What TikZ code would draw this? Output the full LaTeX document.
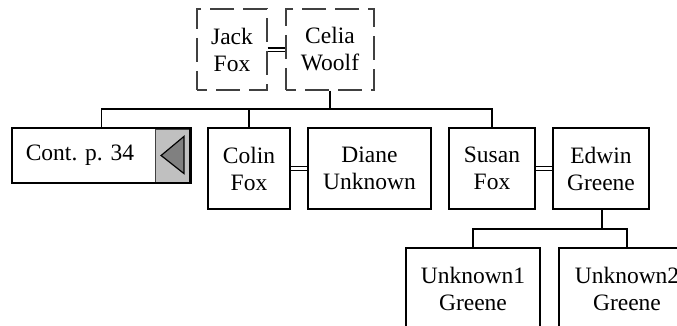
\documentclass[tikz,border=0pt]{standalone}
\usepackage{fontspec}
\setmainfont{Liberation Serif}
\definecolor{btngray}{HTML}{C0C0C0}
\definecolor{tridark}{HTML}{808080}
\definecolor{dashgray}{HTML}{404040}
\begin{document}
\begin{tikzpicture}[x=1pt,y=-1pt,
  person/.style={draw=black,line width=1.8pt,inner sep=0pt,align=center,
    minimum height=81pt,font=\fontsize{23.5}{27}\selectfont},
  ghost/.style={person,draw=dashgray,line width=1.3pt,dash pattern=on 24pt off 9pt,dash phase=14pt},
  link/.style={line width=1.8pt},
  marr/.style={line width=1.1pt}]
\useasboundingbox (0,0) rectangle (677,326);
\node[ghost,minimum width=70pt] (jack) at (232,49.5) {Jack\\Fox};
\node[ghost,minimum width=88pt] (celia) at (330,49.5) {Celia\\Woolf};
\node[person,draw=none,minimum width=177pt,minimum height=53pt] (cont) at (101.5,155.5) {Cont. p. 34\hspace*{43pt}};
\node[draw=dashgray,line width=0.8pt,fill=btngray,minimum width=35pt,minimum height=53pt,inner sep=0pt,anchor=east] (btn) at (cont.east) {};
\draw[line width=1.8pt] (cont.north west) rectangle (cont.south east);
\draw[line width=1.8pt] ([xshift=-1.5pt]btn.north east) -- ([xshift=-1.5pt]btn.south east);
\filldraw[fill=tridark,draw=black,line width=1.2pt] ([xshift=6pt]btn.west) -- ([xshift=-7pt,yshift=-18pt]btn.east) -- ([xshift=-7pt,yshift=19pt]btn.east) -- cycle;
\node[person,minimum width=82pt] (colin) at (249,168.5) {Colin\\Fox};
\node[person,minimum width=123pt] (diane) at (369.5,168.5) {Diane\\Unknown};
\node[person,minimum width=86pt] (susan) at (492,168.5) {Susan\\Fox};
\node[person,minimum width=96pt] (edwin) at (601,168.5) {Edwin\\Greene};
\node[person,minimum width=134pt] (unk1) at (473,288.5) {Unknown1\\Greene};
\node[person,minimum width=136pt] (unk2) at (627,288.5) {Unknown2\\Greene};
% marriages
\draw[marr] ([yshift=-2pt]jack.east) -- ([yshift=-2pt]celia.west);
\draw[marr] ([yshift=1.5pt]jack.east) -- ([yshift=1.5pt]celia.west);
\draw[marr] ([yshift=-2pt]colin.east) -- ([yshift=-2pt]diane.west);
\draw[marr] ([yshift=2pt]colin.east) -- ([yshift=2pt]diane.west);
\draw[marr] ([yshift=-2pt]susan.east) -- ([yshift=-2pt]edwin.west);
\draw[marr] ([yshift=2pt]susan.east) -- ([yshift=2pt]edwin.west);
% family 1
\coordinate (fam1) at (330,109);
\draw[link] (celia.south) -- (fam1);
\draw[link] (cont.north) |- (fam1) -| (susan.north);
\draw[link] (colin.north) -- (colin.north |- fam1);
% family 2
\coordinate (fam2) at (602,229);
\draw[link] ([xshift=1pt]edwin.south) -- (fam2);
\draw[link] (unk1.north) |- (fam2) -| (unk2.north);
\end{tikzpicture}
\end{document}
